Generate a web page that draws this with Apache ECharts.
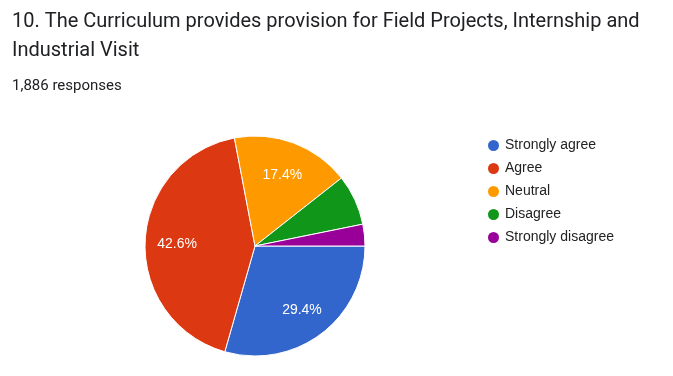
<!DOCTYPE html>
<html>
<head>
<meta charset="utf-8">
<script src="https://cdn.jsdelivr.net/npm/echarts@6/dist/echarts.min.js"></script>
<style>
  html, body { margin: 0; padding: 0; background: #fff; }
  #chart { width: 673px; height: 376px; }
</style>
</head>
<body>
<div id="chart"></div>
<script>
  // answers and counts (1,886 responses)
  const categories = ['Strongly agree', 'Agree', 'Neutral', 'Disagree', 'Strongly disagree'];
  const counts = [555, 803, 328, 140, 60];
  const colors = ['#3366cc', '#dc3912', '#ff9900', '#109618', '#990099'];
  const total = counts.reduce((a, b) => a + b, 0);

  const data = categories.map((name, i) => ({ name: name, value: counts[i] }));

  const chart = echarts.init(document.getElementById('chart'));
  chart.setOption({
    color: colors,
    title: [
      {
        text: '10. The Curriculum provides provision for Field Projects, Internship and\nIndustrial Visit',
        left: 12,
        top: 7,
        padding: 0,
        textStyle: {
          fontFamily: 'Roboto',
          fontSize: 20,
          fontWeight: 'normal',
          color: '#202124',
          lineHeight: 29
        }
      },
      {
        text: '1,886 responses',
        left: 12,
        top: 79,
        padding: 0,
        textStyle: {
          fontFamily: 'Roboto',
          fontSize: 15,
          fontWeight: 'normal',
          color: '#202124'
        }
      }
    ],
    legend: {
      orient: 'vertical',
      left: 481,
      top: 133,
      icon: 'circle',
      itemWidth: 13,
      itemHeight: 13,
      itemGap: 8,
      data: categories,
      textStyle: {
        fontFamily: 'Liberation Sans',
        fontSize: 14,
        color: '#222'
      }
    },
    series: [
      {
        name: 'answers',
        type: 'pie',
        center: [255, 246],
        radius: [0, 110],
        startAngle: 0,
        clockwise: true,
        silent: true,
        itemStyle: { borderColor: '#fff', borderWidth: 1 },
        label: { show: false },
        labelLine: { show: false },
        data: data
      },
      {
        // transparent ring only used to place the percentage labels
        name: 'labels',
        type: 'pie',
        center: [255, 248],
        radius: [40, 110],
        startAngle: 0,
        clockwise: true,
        silent: true,
        itemStyle: { color: 'transparent' },
        label: {
          show: true,
          position: 'inside',
          fontFamily: 'Liberation Sans',
          fontSize: 14,
          color: '#fff',
          formatter: p => {
            const pct = p.value / total * 100;
            return pct < 10 ? '' : pct.toFixed(1) + '%';
          }
        },
        labelLine: { show: false },
        data: data
      }
    ]
  });
</script>
</body>
</html>
